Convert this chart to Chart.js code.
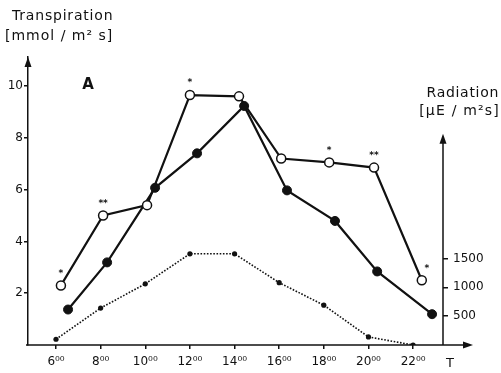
<!DOCTYPE html>
<html><head><meta charset="utf-8">
<script src="https://cdn.jsdelivr.net/npm/chart.js@4"></script>
<style>html,body{margin:0;padding:0;background:#fff}</style>
</head><body>
<canvas id="c" width="501" height="373"></canvas>
<script>
// ---- data ----
const hourTicks = [6,8,10,12,14,16,18,20,22];
const xTickLabels = ['6⁰⁰','8⁰⁰','10⁰⁰','12⁰⁰','14⁰⁰','16⁰⁰','18⁰⁰','20⁰⁰','22⁰⁰'];
const openHours = [6.22,8.11,10.08,12.0,14.2,16.09,18.24,20.25,22.39];
const openValues = [2.3,5.0,5.4,9.65,9.6,7.2,7.05,6.85,2.5];
const openStars = ['*','**','','*','','','*','**','*'];
const filledHours = [6.54,8.29,10.44,12.32,14.43,16.35,18.5,20.39,22.85];
const filledValues = [1.37,3.19,6.07,7.4,9.23,5.97,4.79,2.84,1.19];
const radHours = [6,8,10,12,14,16,18,20,22];
const radValues = [100,640,1060,1580,1580,1080,690,140,0];
const leftTicks = [2,4,6,8,10];
const rightTicks = [500,1000,1500];
const leftTitle = ['Transpiration','[mmol / m² s]'];
const rightTitle = ['Radiation','[µE / m²s]'];
const panelLabel = 'A';
const xTitle = 'T';

const INK = '#111';
const FONT = 'DejaVu Sans';

const toPts = (xs, ys) => xs.map((x,i)=>({x, y: ys[i]}));

function arrow(ctx, tipX, tipY, dir){
  ctx.beginPath();
  if(dir==='up'){
    ctx.moveTo(tipX, tipY); ctx.lineTo(tipX-3.5, tipY+10); ctx.lineTo(tipX+3.5, tipY+10);
  } else {
    ctx.moveTo(tipX, tipY); ctx.lineTo(tipX-10, tipY-3.5); ctx.lineTo(tipX-10, tipY+3.5);
  }
  ctx.closePath(); ctx.fill();
}

const starPlugin = {
  id: 'stars',
  afterDatasetsDraw(chart){
    const ctx = chart.ctx;
    const meta = chart.getDatasetMeta(0);
    ctx.save();
    ctx.fillStyle = INK;
    ctx.font = 'bold 9px ' + FONT;
    ctx.textAlign = 'center';
    ctx.textBaseline = 'middle';
    meta.data.forEach((el,i)=>{
      const s = openStars[i];
      if(!s) return;
      const dx = (i === openStars.length-1) ? 5 : 0;
      ctx.fillText(s, el.x + dx, el.y - 12);
    });
    ctx.restore();
  }
};

const decoPlugin = {
  id: 'deco',
  afterDraw(chart){
    const ctx = chart.ctx;
    const yl = chart.scales.y, yr = chart.scales.y2;
    const area = chart.chartArea;
    ctx.save();
    ctx.fillStyle = INK; ctx.strokeStyle = INK; ctx.lineWidth = 1.5;
    // left axis arrow
    arrow(ctx, area.left, area.top, 'up');
    // x axis extension + arrow
    const y0 = yl.getPixelForValue(0);
    ctx.beginPath(); ctx.moveTo(area.left-2, y0); ctx.lineTo(area.right+25, y0); ctx.stroke();
    arrow(ctx, area.right+30, y0, 'right');
    // right axis line + arrow
    const topR = yr.getPixelForValue(3660);
    ctx.beginPath(); ctx.moveTo(area.right, y0); ctx.lineTo(area.right, topR+5); ctx.stroke();
    arrow(ctx, area.right, topR, 'up');
    // texts
    ctx.textBaseline = 'middle';
    ctx.font = '14px ' + FONT;
    ctx.textAlign = 'left';
    ctx.letterSpacing = '0.8px';
    ctx.fillText(leftTitle[0], 12, 16);
    ctx.letterSpacing = '1px';
    ctx.fillText(leftTitle[1], 5, 36);
    ctx.textAlign = 'right';
    ctx.letterSpacing = '0.7px';
    ctx.fillText(rightTitle[0], 499, 93);
    ctx.letterSpacing = '1.2px';
    ctx.fillText(rightTitle[1], 500, 111);
    ctx.letterSpacing = '0px';
    ctx.textAlign = 'center';
    ctx.font = 'bold 15px ' + FONT;
    ctx.fillText(panelLabel, 88, 85);
    ctx.font = '13px ' + FONT;
    ctx.fillText(xTitle, 450, 364);
    ctx.restore();
  }
};

new Chart(document.getElementById('c'), {
  type: 'line',
  data: {
    datasets: [
      { data: toPts(openHours, openValues), yAxisID: 'y', borderColor: INK, borderWidth: 2.2,
        pointRadius: 4.5, pointBackgroundColor: '#fff', pointBorderColor: INK, pointBorderWidth: 1.5, tension: 0, order: 1 },
      { data: toPts(filledHours, filledValues), yAxisID: 'y', borderColor: INK, borderWidth: 2.2,
        pointRadius: 4.5, pointBackgroundColor: INK, pointBorderColor: INK, pointBorderWidth: 1, tension: 0, order: 2 },
      { data: toPts(radHours, radValues), yAxisID: 'y2', borderColor: INK, borderWidth: 1.6, borderDash: [1.6,1.6],
        pointRadius: 2.6, pointBackgroundColor: INK, pointBorderColor: INK, pointBorderWidth: 0, tension: 0, order: 3 }
    ]
  },
  options: {
    responsive: false, devicePixelRatio: 1, animation: false,
    layout: { padding: { top: 57, left: 0, right: 0, bottom: 0 } },
    plugins: { legend: { display: false }, tooltip: { enabled: false } },
    scales: {
      x: {
        type: 'linear', min: 4.745, max: 23.34,
        afterBuildTicks: s => { s.ticks = hourTicks.map(v=>({value:v})); },
        afterFit: s => { s.height = 28; },
        grid: { drawOnChartArea: false, drawTicks: true, tickLength: 4, color: INK, lineWidth: 1.5 },
        border: { display: false },
        ticks: { color: INK, font: { family: FONT, size: 12 }, padding: 6, maxRotation: 0, autoSkip: false,
          callback: (v) => { const i = hourTicks.indexOf(v); return i>=0 ? xTickLabels[i] : ''; } }
      },
      y: {
        type: 'linear', position: 'left', min: 0, max: 11.12,
        afterBuildTicks: s => { s.ticks = leftTicks.map(v=>({value:v})); },
        afterFit: s => { s.width = 28; },
        grid: { drawOnChartArea: false, drawTicks: true, tickLength: 4, color: INK, lineWidth: 1.5 },
        border: { display: true, color: INK, width: 1.5 },
        ticks: { color: INK, font: { family: FONT, size: 12 }, padding: 1, callback: v => String(v) }
      },
      y2: {
        type: 'linear', position: 'right', min: 0, max: 4990,
        afterBuildTicks: s => { s.ticks = rightTicks.map(v=>({value:v})); },
        afterFit: s => { s.width = 58; },
        grid: { drawOnChartArea: false, drawTicks: true, tickLength: 5, color: INK, lineWidth: 1.5 },
        border: { display: false },
        ticks: { color: INK, font: { family: FONT, size: 12 }, padding: 5, callback: v => String(v) }
      }
    }
  },
  plugins: [starPlugin, decoPlugin]
});
</script>
</body></html>
